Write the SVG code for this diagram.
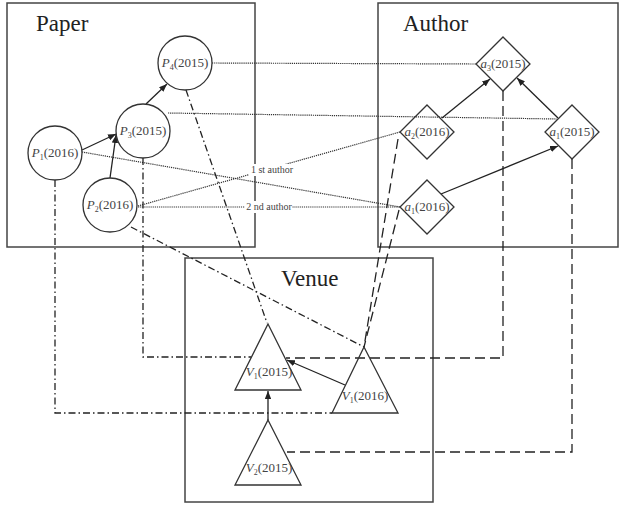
<svg xmlns="http://www.w3.org/2000/svg" width="624" height="506" viewBox="0 0 624 506">
<defs>
<marker id="ah" viewBox="0 0 10 8" refX="10" refY="4" markerWidth="8" markerHeight="6.4" markerUnits="userSpaceOnUse" orient="auto">
<path d="M0,0 L10,4 L0,8 Z" fill="#222"/>
</marker>
<style>
.box{fill:none;stroke:#444;stroke-width:1.5}
.node{fill:none;stroke:#333;stroke-width:1.3}
.arrow{fill:none;stroke:#222;stroke-width:1.3;marker-end:url(#ah)}
.dot{fill:none;stroke:#333;stroke-width:1.2;stroke-dasharray:1.2 0.9}
.dashdot{fill:none;stroke:#222;stroke-width:1.3;stroke-dasharray:7 3 1.5 3}
.dash{fill:none;stroke:#222;stroke-width:1.3;stroke-dasharray:10 5}
.title{font-family:"Liberation Serif",serif;font-size:23px;fill:#222}
.lbl{font-family:"Liberation Serif",serif;font-size:13px;fill:#444;text-anchor:middle}
.it{font-style:italic}
.sub{font-size:8px}
.elab{font-family:"Liberation Serif",serif;font-size:10px;fill:#444;text-anchor:middle}
</style>
</defs>
<rect width="624" height="506" fill="#fff"/>
<g id="regions">
<rect class="box" x="7" y="3" width="248" height="244"/>
<rect class="box" x="378" y="3" width="240" height="244"/>
<rect class="box" x="185" y="258" width="248" height="244"/>
<text class="title" x="36" y="31">Paper</text>
<text class="title" x="403" y="31">Author</text>
<text class="title" x="281" y="286">Venue</text>
</g>
<g id="connectors">
<line class="dot" x1="212" y1="63" x2="476" y2="64"/>
<line class="dot" x1="168" y1="113" x2="557" y2="119"/>
<line class="dot" x1="82" y1="152" x2="400" y2="207"/>
<line class="dot" x1="138" y1="206" x2="400" y2="132"/>
<line class="dot" x1="138" y1="207" x2="400" y2="207"/>
<rect x="249" y="164" width="42" height="12" fill="#fff"/>
<text class="elab" x="272" y="173">1 st author</text>
<rect x="245" y="201" width="47" height="12" fill="#fff"/>
<text class="elab" x="269" y="210">2 nd author</text>
<line class="dashdot" x1="186" y1="90" x2="267" y2="323"/>
<line class="dashdot" x1="131" y1="227" x2="364" y2="347"/>
<path class="dashdot" d="M143,158 V357 H251"/>
<path class="dashdot" d="M55,180 V413 H332"/>
<path class="dash" d="M503,91 V358 H286"/>
<path class="dash" d="M572,159 V452 H287"/>
<line class="dash" x1="398" y1="139" x2="364" y2="347"/>
<line class="dash" x1="399" y1="210" x2="364" y2="347"/>
<line class="arrow" x1="82" y1="150" x2="116" y2="134"/>
<line class="arrow" x1="110" y1="178" x2="116" y2="135"/>
<line class="arrow" x1="146" y1="104" x2="167" y2="84"/>
<line class="arrow" x1="442" y1="118" x2="490" y2="79"/>
<line class="arrow" x1="558" y1="118" x2="517" y2="78"/>
<line class="arrow" x1="441" y1="194" x2="558" y2="146"/>
<line class="arrow" x1="345" y1="385" x2="287" y2="360"/>
<line class="arrow" x1="268" y1="420" x2="268" y2="391"/>
</g>
<g id="P4">
<circle class="node" cx="185" cy="63" r="27"/>
<text class="lbl" x="185" y="67"><tspan class="it">P</tspan><tspan class="sub" dy="3">4</tspan><tspan dy="-3">(2015)</tspan></text>
</g>
<g id="P3">
<circle class="node" cx="143" cy="131" r="27"/>
<text class="lbl" x="143" y="135"><tspan class="it">P</tspan><tspan class="sub" dy="3">3</tspan><tspan dy="-3">(2015)</tspan></text>
</g>
<g id="P1">
<circle class="node" cx="55" cy="153" r="27"/>
<text class="lbl" x="55" y="157"><tspan class="it">P</tspan><tspan class="sub" dy="3">1</tspan><tspan dy="-3">(2016)</tspan></text>
</g>
<g id="P2">
<circle class="node" cx="110" cy="205" r="27"/>
<text class="lbl" x="110" y="209"><tspan class="it">P</tspan><tspan class="sub" dy="3">2</tspan><tspan dy="-3">(2016)</tspan></text>
</g>
<g id="a3">
<polygon class="node" points="503,37 530,64 503,91 476,64"/>
<text class="lbl" x="503" y="68"><tspan class="it">a</tspan><tspan class="sub" dy="3">3</tspan><tspan dy="-3">(2015)</tspan></text>
</g>
<g id="a2">
<polygon class="node" points="427,105 454,132 427,159 400,132"/>
<text class="lbl" x="427" y="136"><tspan class="it">a</tspan><tspan class="sub" dy="3">2</tspan><tspan dy="-3">(2016)</tspan></text>
</g>
<g id="a1_2015">
<polygon class="node" points="572,105 599,132 572,159 545,132"/>
<text class="lbl" x="572" y="136"><tspan class="it">a</tspan><tspan class="sub" dy="3">1</tspan><tspan dy="-3">(2015)</tspan></text>
</g>
<g id="a1_2016">
<polygon class="node" points="427,180 454,207 427,234 400,207"/>
<text class="lbl" x="427" y="211"><tspan class="it">a</tspan><tspan class="sub" dy="3">1</tspan><tspan dy="-3">(2016)</tspan></text>
</g>
<g id="V1_2015">
<polygon class="node" points="268,324 301,390 235,390"/>
<text class="lbl" x="269" y="376"><tspan class="it">V</tspan><tspan class="sub" dy="3">1</tspan><tspan dy="-3">(2015)</tspan></text>
</g>
<g id="V1_2016">
<polygon class="node" points="364,347 398,413 332,413"/>
<text class="lbl" x="365" y="400"><tspan class="it">V</tspan><tspan class="sub" dy="3">1</tspan><tspan dy="-3">(2016)</tspan></text>
</g>
<g id="V2_2015">
<polygon class="node" points="268,420 301,485 235,485"/>
<text class="lbl" x="269" y="472"><tspan class="it">V</tspan><tspan class="sub" dy="3">2</tspan><tspan dy="-3">(2015)</tspan></text>
</g>
</svg>
